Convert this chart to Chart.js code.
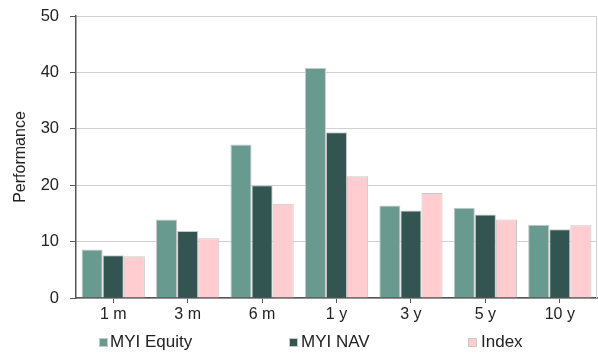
<!DOCTYPE html>
<html>
<head>
<meta charset="utf-8">
<script src="https://cdn.jsdelivr.net/npm/chart.js@4"></script>
<style>
  html, body { margin: 0; padding: 0; background: #fff; }
  #wrap { position: relative; width: 598px; height: 356px; }
  #legend { position: absolute; left: 0; top: 0; width: 598px; height: 356px; pointer-events: none;
            font-family: "Liberation Sans", Arial, sans-serif; font-size: 17px; line-height: 20px; color: #222; }
  .box { position: absolute; top: 338px; width: 9px; height: 9px; box-sizing: border-box; border: 1px solid #c8c8c8; }
  .txt { position: absolute; top: 332px; white-space: nowrap; }
</style>
</head>
<body>
<div id="wrap">
  <canvas id="c" width="598" height="356"></canvas>
  <div id="legend"></div>
</div>
<script>
const categories = ["1 m", "3 m", "6 m", "1 y", "3 y", "5 y", "10 y"];
const seriesNames = ["MYI Equity", "MYI NAV", "Index"];
const myiEquity = [8.6, 13.9, 27.2, 40.8, 16.4, 16.0, 13.0];
const myiNav = [7.6, 11.9, 20.0, 29.4, 15.5, 14.8, 12.2];
const indexPerf = [7.4, 10.6, 16.7, 21.6, 18.6, 13.9, 12.9];
const yTicks = [0, 10, 20, 30, 40, 50];

const colors = ["#689a90", "#325552", "#ffccd0"];
const legendBoxX = [99, 289, 468];
const legendTextX = [110, 301, 481];
const font = "'Liberation Sans', Arial, sans-serif";

// thin light frame on the right edge of the plot area
const rightEdge = {
  id: "rightEdge",
  afterDatasetsDraw(chart) {
    const { ctx, chartArea } = chart;
    ctx.save();
    ctx.strokeStyle = "#d0d0d0";
    ctx.lineWidth = 1;
    ctx.beginPath();
    ctx.moveTo(chartArea.right - 0.5, chartArea.top);
    ctx.lineTo(chartArea.right - 0.5, chartArea.bottom);
    ctx.stroke();
    ctx.restore();
  }
};

const values = [myiEquity, myiNav, indexPerf];

new Chart(document.getElementById("c"), {
  type: "bar",
  data: {
    labels: categories,
    datasets: seriesNames.map((name, i) => ({
      label: name,
      data: values[i],
      backgroundColor: colors[i],
      borderColor: "#c8c8c8",
      borderWidth: 1,
      categoryPercentage: 0.85,
      barPercentage: 1.0
    }))
  },
  options: {
    responsive: false,
    animation: false,
    layout: { padding: { top: 16, right: 1, left: 0, bottom: 0 } },
    plugins: { legend: { display: false }, tooltip: { enabled: false } },
    scales: {
      x: {
        afterFit: s => { s.height = 58; s.paddingLeft = 0; s.paddingRight = 0; },
        grid: { display: true, drawOnChartArea: false, offset: false, drawTicks: true,
                tickLength: 5, tickColor: "#555" },
        border: { color: "#555", width: 1.5 },
        ticks: { color: "#222", font: { family: font, size: 16 }, padding: 2 }
      },
      y: {
        min: 0, max: 50,
        afterFit: s => { s.width = 76; s.paddingTop = 0; s.paddingBottom = 0; },
        afterBuildTicks: s => { s.ticks = yTicks.map(v => ({ value: v })); },
        grid: { color: "#d0d0d0", lineWidth: 1, tickLength: 6, tickColor: "#555" },
        border: { color: "#555", width: 1.5 },
        ticks: { color: "#222", font: { family: font, size: 16.5 }, padding: 11 },
        title: { display: true, text: "Performance", color: "#222",
                 font: { family: font, size: 16 }, padding: { top: 11, bottom: 0 } }
      }
    }
  },
  plugins: [rightEdge]
});

const legend = document.getElementById("legend");
seriesNames.forEach((name, i) => {
  const box = document.createElement("span");
  box.className = "box";
  box.style.left = legendBoxX[i] + "px";
  box.style.background = colors[i];
  const txt = document.createElement("span");
  txt.className = "txt";
  txt.style.left = legendTextX[i] + "px";
  txt.textContent = name;
  legend.appendChild(box);
  legend.appendChild(txt);
});
</script>
</body>
</html>
